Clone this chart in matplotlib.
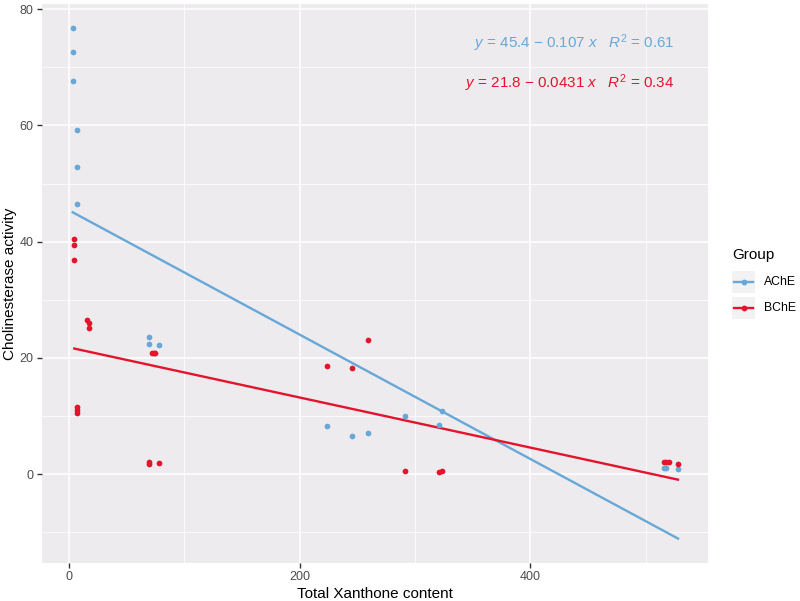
import matplotlib
matplotlib.use("Agg")
import matplotlib.pyplot as plt
import numpy as np
from matplotlib.lines import Line2D
from matplotlib.patches import Rectangle

plt.rcParams['font.family'] = ['Liberation Sans', 'DejaVu Sans']
plt.rcParams['mathtext.fontset'] = 'custom'
plt.rcParams['mathtext.rm'] = 'Liberation Sans'
plt.rcParams['mathtext.it'] = 'Liberation Sans:italic'

# ---- data ----
ache_x = [3.2, 3.2, 3.2, 7.2, 7.2, 7.2, 69, 69, 78, 224, 245, 259, 291, 321, 323, 516, 518, 528]
ache_y = [76.8, 72.7, 67.6, 59.2, 52.9, 46.5, 23.6, 22.4, 22.3, 8.3, 6.5, 7.0, 10.0, 8.5, 10.8, 1.0, 1.1, 0.8]

bche_x = [4.6, 4.6, 4.6, 16, 17, 17, 7.2, 7.2, 7.2, 69, 69, 78, 72, 74, 75, 224, 245, 259, 291, 321, 323, 516, 518, 520, 528]
bche_y = [40.4, 39.5, 36.8, 26.6, 26.0, 25.2, 11.6, 11.0, 10.6, 2.0, 1.7, 1.9, 20.8, 20.9, 20.9, 18.6, 18.3, 23.1, 0.5, 0.4, 0.5, 2.1, 2.1, 2.1, 1.8]

ache_fit = (45.4, -0.107)
bche_fit = (21.8, -0.0431)
ache_label = r'$\it{y}$ = 45.4 $-$ 0.107 $\it{x}$   $\it{R}^{2}$ = 0.61'
bche_label = r'$\it{y}$ = 21.8 $-$ 0.0431 $\it{x}$   $\it{R}^{2}$ = 0.34'

groups = ['AChE', 'BChE']
colors = ['#67A8D8', '#E3142C']

xticks = [0, 200, 400]
yticks = [0, 20, 40, 60, 80]

# ---- figure ----
W, H = 800, 601
fig = plt.figure(figsize=(W / 100, H / 100), dpi=100)
fig.patch.set_facecolor('white')
ax = fig.add_axes([42 / W, 1 - 563 / H, (708 - 42) / W, (563 - 4) / H])
ax.set_facecolor('#EDEBED')
for s in ax.spines.values():
    s.set_visible(False)

ax.set_xlim(-23.4, 554)
ax.set_ylim(-15.3, 80.9)
ax.set_xticks(xticks)
ax.set_yticks(yticks)
ax.set_xticks([100, 300, 500], minor=True)
ax.set_yticks([-10, 10, 30, 50, 70], minor=True)
ax.grid(which='major', color='white', linewidth=1.1)
ax.grid(which='minor', color='white', linewidth=0.55)
ax.set_axisbelow(True)
ax.tick_params(which='major', length=3.8, width=1.0, color='#333333',
               labelsize=9, labelcolor='#4D4D4D', pad=2.2)
ax.tick_params(which='minor', length=0)

for gx, gy, fit, col in [(ache_x, ache_y, ache_fit, colors[0]),
                         (bche_x, bche_y, bche_fit, colors[1])]:
    ax.scatter(gx, gy, s=17, color=col, linewidths=0, zorder=3)
    xs = np.array([min(gx), max(gx)])
    ax.plot(xs, fit[0] + fit[1] * xs, color=col, linewidth=1.7, zorder=2)

ax.text(0.950, 0.930, ache_label, transform=ax.transAxes, ha='right', va='center',
        color=colors[0], fontsize=10.9)
ax.text(0.950, 0.859, bche_label, transform=ax.transAxes, ha='right', va='center',
        color=colors[1], fontsize=10.9)

ax.set_xlabel('Total Xanthone content', fontsize=11, color='black', labelpad=3)
ax.set_ylabel('Cholinesterase activity', fontsize=11, color='black', labelpad=2)

# ---- legend ----
fig.text(732 / W, 1 - 255 / H, 'Group', fontsize=11, ha='left', va='center')
for i, (g, col) in enumerate(zip(groups, colors)):
    yc = 282 + 26 * i
    fig.add_artist(Rectangle((732 / W, 1 - (yc + 11) / H), 23 / W, 22 / H,
                             transform=fig.transFigure, facecolor='#F2F2F2',
                             edgecolor='none'))
    fig.add_artist(Line2D([734 / W, 753 / W], [1 - yc / H, 1 - yc / H],
                          transform=fig.transFigure, color=col, linewidth=1.7))
    fig.add_artist(Line2D([743.5 / W], [1 - yc / H], transform=fig.transFigure,
                          marker='o', markersize=4.2, color=col, linewidth=0,
                          markeredgewidth=0))
    fig.text(764 / W, 1 - yc / H, g, fontsize=8.8, ha='left', va='center')

fig.savefig('out.png', dpi=100)
